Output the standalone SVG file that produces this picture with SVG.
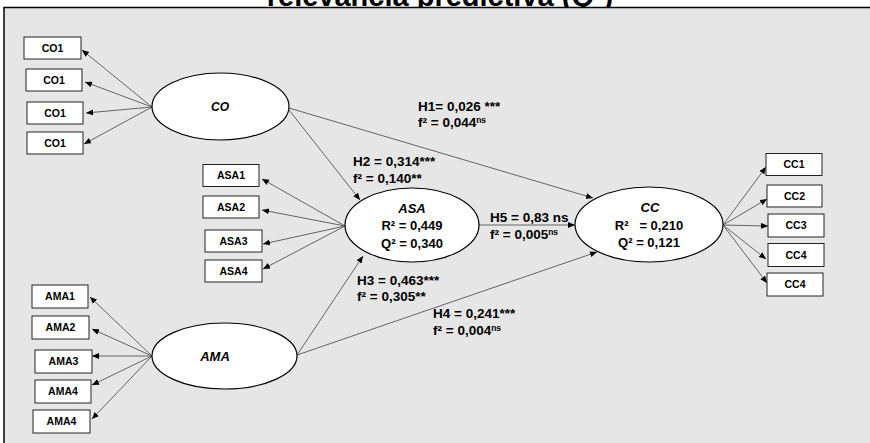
<svg xmlns="http://www.w3.org/2000/svg" width="870" height="443" viewBox="0 0 870 443">
<style>
.title{font-family:"Liberation Sans",Arial,sans-serif;font-weight:bold;font-size:29px;fill:#000;text-anchor:middle}
.box{fill:#fff;stroke:#222;stroke-width:1}
.bt{font-family:"Liberation Sans",Arial,sans-serif;font-weight:bold;font-size:10.5px;fill:#000;text-anchor:middle}
.ell{fill:#fff;stroke:#000;stroke-width:1.2}
.et{font-family:"Liberation Sans",Arial,sans-serif;font-weight:bold;font-size:13px;fill:#000;text-anchor:middle}
.it{font-style:italic}
.lbl{font-family:"Liberation Sans",Arial,sans-serif;font-weight:bold;font-size:13.5px;fill:#000}
.sup{font-size:8.5px}
.con line{stroke:#555;stroke-width:0.9;marker-end:url(#ah)}
</style>
<defs>
<marker id="ah" markerUnits="userSpaceOnUse" markerWidth="8" markerHeight="7" refX="7" refY="3" orient="auto">
<path d="M0,0 L7,3 L0,6 z" fill="#000"/>
</marker>
</defs>
<rect x="0" y="0" width="870" height="443" fill="#fff"/>
<text class="title" x="440" y="6">relevancia predictiva (Q²)</text>
<rect x="4" y="7.5" width="866" height="436" fill="#e6e6e6"/>
<line x1="3.5" y1="7.5" x2="870" y2="7.5" stroke="#000" stroke-width="1.5"/>
<line x1="4" y1="7" x2="4" y2="443" stroke="#000" stroke-width="1.5"/>

<g id="connectors" class="con">
<line x1="152" y1="107" x2="82" y2="50"/>
<line x1="152" y1="107" x2="85" y2="82"/>
<line x1="152" y1="107" x2="86" y2="113"/>
<line x1="152" y1="107" x2="84" y2="144"/>
<line x1="345" y1="226" x2="262" y2="179"/>
<line x1="345" y1="226" x2="262" y2="210"/>
<line x1="345" y1="226" x2="263" y2="244"/>
<line x1="345" y1="226" x2="263" y2="269"/>
<line x1="723" y1="225" x2="766" y2="167"/>
<line x1="723" y1="225" x2="767" y2="199"/>
<line x1="723" y1="225" x2="768" y2="226"/>
<line x1="723" y1="225" x2="766" y2="259"/>
<line x1="723" y1="225" x2="767" y2="283"/>
<line x1="152" y1="356" x2="90" y2="297"/>
<line x1="152" y1="356" x2="92" y2="329"/>
<line x1="152" y1="356" x2="92" y2="356"/>
<line x1="152" y1="356" x2="92" y2="385"/>
<line x1="152" y1="356" x2="92" y2="419"/>
<line x1="289" y1="108" x2="593" y2="198"/>
<line x1="289" y1="110" x2="360" y2="200"/>
<line x1="479" y1="225" x2="575" y2="225"/>
<line x1="297" y1="355" x2="363" y2="256"/>
<line x1="297" y1="355" x2="597" y2="252"/>
</g>

<g id="CO1a"><rect class="box" x="24" y="37" width="57" height="22"/><text class="bt" x="52.5" y="51.5">CO1</text></g>
<g id="CO1b"><rect class="box" x="26" y="69" width="56" height="22"/><text class="bt" x="54" y="83.5">CO1</text></g>
<g id="CO1c"><rect class="box" x="27" y="102" width="56" height="22"/><text class="bt" x="55" y="116.5">CO1</text></g>
<g id="CO1d"><rect class="box" x="27" y="132" width="56" height="22"/><text class="bt" x="55" y="146.5">CO1</text></g>

<g id="ASA1"><rect class="box" x="203" y="164.5" width="56" height="22"/><text class="bt" x="231" y="179">ASA1</text></g>
<g id="ASA2"><rect class="box" x="203" y="196" width="56" height="22"/><text class="bt" x="231" y="210.5">ASA2</text></g>
<g id="ASA3"><rect class="box" x="205" y="230" width="57" height="22"/><text class="bt" x="233.5" y="244.5">ASA3</text></g>
<g id="ASA4"><rect class="box" x="205" y="260" width="57" height="22"/><text class="bt" x="233.5" y="274.5">ASA4</text></g>

<g id="CC1"><rect class="box" x="766" y="153.5" width="56" height="22"/><text class="bt" x="794" y="168">CC1</text></g>
<g id="CC2"><rect class="box" x="767" y="185" width="55" height="22"/><text class="bt" x="794.5" y="199.5">CC2</text></g>
<g id="CC3"><rect class="box" x="768" y="214" width="56" height="23"/><text class="bt" x="796" y="229">CC3</text></g>
<g id="CC4a"><rect class="box" x="768" y="243.5" width="56" height="23"/><text class="bt" x="796" y="258.5">CC4</text></g>
<g id="CC4b"><rect class="box" x="767" y="273" width="56" height="23"/><text class="bt" x="795" y="288">CC4</text></g>

<g id="AMA1"><rect class="box" x="32" y="285" width="56" height="23"/><text class="bt" x="60" y="300">AMA1</text></g>
<g id="AMA2"><rect class="box" x="32" y="316" width="57" height="23"/><text class="bt" x="60.5" y="331">AMA2</text></g>
<g id="AMA3"><rect class="box" x="35" y="350" width="57" height="23"/><text class="bt" x="63.5" y="365">AMA3</text></g>
<g id="AMA4a"><rect class="box" x="35" y="380" width="56" height="23"/><text class="bt" x="63" y="395">AMA4</text></g>
<g id="AMA4b"><rect class="box" x="33" y="410" width="57" height="23"/><text class="bt" x="61.5" y="425">AMA4</text></g>

<g id="CO"><ellipse class="ell" cx="220.5" cy="106.5" rx="68.5" ry="33.5"/><text class="et it" x="220" y="111" style="font-size:12px">CO</text></g>
<g id="ASA"><ellipse class="ell" cx="412" cy="225" rx="67" ry="37"/>
<text class="et it" x="412" y="212.5">ASA</text>
<text class="et" x="412" y="230">R² = 0,449</text>
<text class="et" x="412" y="247.5">Q² = 0,340</text></g>
<g id="CC"><ellipse class="ell" cx="649" cy="224.5" rx="74" ry="37.5"/>
<text class="et it" x="650" y="211.5">CC</text>
<text class="et" x="649" y="230" xml:space="preserve">R²   = 0,210</text>
<text class="et" x="649" y="247">Q² = 0,121</text></g>
<g id="AMA"><ellipse class="ell" cx="224.5" cy="356" rx="72.5" ry="33"/><text class="et it" x="215" y="361">AMA</text></g>

<g id="labels">
<text class="lbl" x="418" y="111">H1= 0,026 ***</text>
<text class="lbl" x="418" y="127">f² = 0,044<tspan class="sup" dy="-4">ns</tspan></text>
<text class="lbl" x="353" y="165.5">H2 = 0,314***</text>
<text class="lbl" x="353" y="182.5">f² = 0,140**</text>
<text class="lbl" x="490" y="221.5">H5 = 0,83 ns</text>
<text class="lbl" x="490" y="239">f² = 0,005<tspan class="sup" dy="-4">ns</tspan></text>
<text class="lbl" x="357" y="285">H3 = 0,463***</text>
<text class="lbl" x="357" y="301">f² = 0,305**</text>
<text class="lbl" x="433" y="318">H4 = 0,241***</text>
<text class="lbl" x="433" y="335">f² = 0,004<tspan class="sup" dy="-4">ns</tspan></text>
</g>
</svg>
